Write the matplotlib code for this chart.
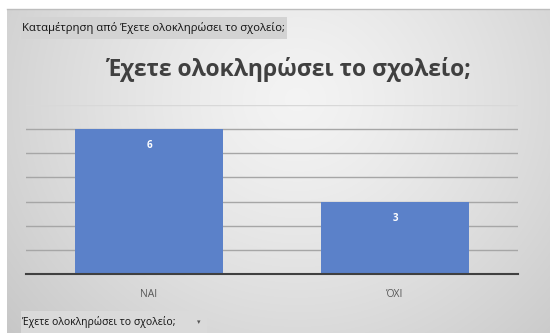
import matplotlib
matplotlib.use("Agg")
import matplotlib.pyplot as plt
import numpy as np
from matplotlib.patches import Rectangle

categories = ["ΝΑΙ", "ΌΧΙ"]
values = [6, 3]
title = "Έχετε ολοκληρώσει το σχολείο;"
top_button = "Καταμέτρηση από Έχετε ολοκληρώσει το σχολείο;"
bottom_button = "Έχετε ολοκληρώσει το σχολείο;"

plt.rcParams['font.family'] = ['Open Sans', 'DejaVu Sans']

W, H = 550, 333
fig = plt.figure(figsize=(W / 100, H / 100), dpi=100)
fig.patch.set_facecolor('white')

# background gradient panel
bg = fig.add_axes([7 / W, 0, (W - 7) / W, (H - 9) / H])
yy, xx = np.mgrid[0:324, 0:543]
cx, cy = 290, 90
d = np.sqrt(((xx - cx) / 340.0) ** 2 + ((yy - cy) / 320.0) ** 2)
val = 0.955 - 0.15 * np.clip(d, 0, 1.2) ** 1.3
img = np.dstack([val, val, val])
bg.imshow(img, aspect='auto', extent=[0, 1, 0, 1], origin='upper')
bg.set_axis_off()
fig.add_artist(plt.Line2D([7 / W, 1], [(H - 9) / H, (H - 9) / H],
                          transform=fig.transFigure, color='#bdbdbd', lw=1))

# buttons
def button(x0, y0, x1, y1, text, color, size):
    fig.add_artist(Rectangle((x0 / W, 1 - y1 / H), (x1 - x0) / W, (y1 - y0) / H,
                             transform=fig.transFigure, facecolor=color,
                             edgecolor='none'))
    fig.text((x0 + 1) / W, 1 - ((y0 + y1) / 2) / H, text, ha='left', va='center',
             fontsize=size, color='#111111')

button(21, 17, 287, 39, top_button, '#d3d3d3', 8.1)
button(21, 311, 207, 333, bottom_button, '#dadada', 7.5)
fig.text(199 / W, 1 - 322 / H, "▾", ha='center', va='center', fontsize=5,
         color='#555555', family='DejaVu Sans')

# title
fig.text(289 / W, 1 - 70 / H, title, ha='center', va='center', fontsize=16.5,
         fontweight='bold', color='#404040')

# main plot
ax = fig.add_axes([26 / W, (H - 274) / H, (518 - 26) / W, (274 - 105) / H])
ax.patch.set_alpha(0)
x = np.arange(len(categories))
bars = ax.bar(x, values, width=0.6, color='#5B81C9', zorder=3)
ax.set_xlim(-0.5, 1.5)
ax.set_ylim(0, 7)
ax.set_yticks(range(0, 7))
ax.yaxis.grid(True, color='#a6a6a6', lw=1, zorder=0)
ax.axhline(7, color='#d8d8d8', lw=1, zorder=0)
ax.tick_params(axis='y', left=False, labelleft=False)
ax.tick_params(axis='x', bottom=False, labelsize=7.5, labelcolor='#595959', pad=7)
ax.set_xticks(x)
ax.set_xticklabels(categories)
for s in ['top', 'right', 'left']:
    ax.spines[s].set_visible(False)
ax.spines['bottom'].set_color('#404040')
ax.spines['bottom'].set_linewidth(1.5)
ax.spines['bottom'].set_zorder(4)
for b, v in zip(bars, values):
    ax.annotate(str(v), (b.get_x() + b.get_width() / 2, v), xytext=(0, -12),
                textcoords='offset points', ha='center', va='center',
                color='white', fontsize=7, fontweight='bold', zorder=5)

fig.savefig('out.png', dpi=100)
